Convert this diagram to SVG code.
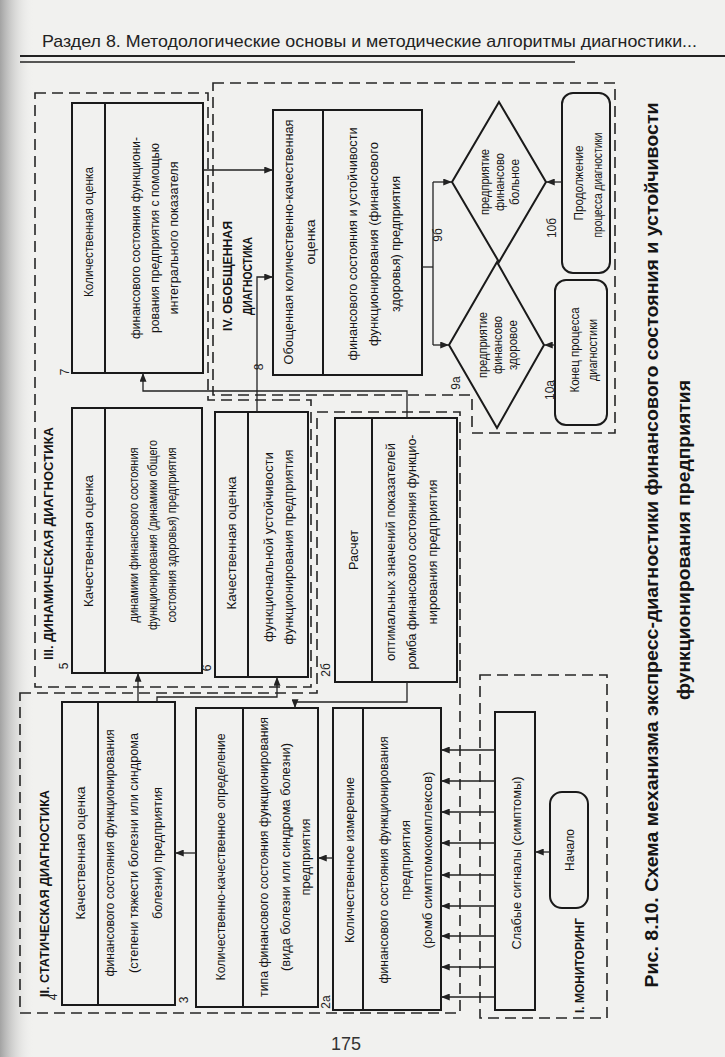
<svg xmlns="http://www.w3.org/2000/svg" width="725" height="1057" viewBox="0 0 725 1057">
<defs>
<linearGradient id="shadow" x1="0" y1="0" x2="1" y2="0">
<stop offset="0" stop-color="#9a9a9a" stop-opacity="0.9"/>
<stop offset="1" stop-color="#f1f1ef" stop-opacity="0"/>
</linearGradient>
<marker id="ah" viewBox="0 0 10 8" refX="10" refY="4" markerWidth="9" markerHeight="7" markerUnits="userSpaceOnUse" orient="auto">
<path d="M0,0 L10,4 L0,8 Z" fill="#222"/>
</marker>
<style>
.t{font-family:"Liberation Sans",Arial,sans-serif;font-size:13px;fill:#151515;text-anchor:middle;dominant-baseline:central}
.s{font-size:12px}
.b{font-weight:bold}
.st{text-anchor:start}
.lab{font-family:"Liberation Sans",Arial,sans-serif;font-size:12px;fill:#222;text-anchor:middle;dominant-baseline:central}
.box{fill:none;stroke:#1a1a1a;stroke-width:2}
.dash{fill:none;stroke:#262626;stroke-width:1.6;stroke-dasharray:11 6}
.con{fill:none;stroke:#222;stroke-width:1.3;marker-end:url(#ah)}
.ln{fill:none;stroke:#222;stroke-width:1.3}
</style>
</defs>
<rect width="725" height="1057" fill="#f1f1ef"/>
<rect width="34" height="1057" fill="url(#shadow)"/>

<g id="header">
<text x="42" y="47" font-family="'Liberation Sans',Arial,sans-serif" font-size="17" fill="#222" textLength="655" lengthAdjust="spacingAndGlyphs">Раздел 8. Методологические основы и методические алгоритмы диагностики...</text>
<line x1="20" y1="56" x2="725" y2="56" stroke="#222" stroke-width="2"/>
<line x1="20" y1="62" x2="575" y2="62" stroke="#222" stroke-width="1.3"/>
</g>

<g id="sections">
<path id="sec3" class="dash" d="M35,93 H208 V400 H311 V687 H35 Z"/>
<path id="sec4" class="dash" d="M213,83 H615 V433 H472 V395 H213 Z"/>
<path id="sec2" class="dash" d="M20,693 H317 V412 H460 V1013 H20 Z"/>
<path id="sec1" class="dash" d="M480,675 H607 V1018 H480 Z"/>
<text class="t b st" transform="translate(48,660) rotate(-90)" textLength="233" lengthAdjust="spacingAndGlyphs">III. ДИНАМИЧЕСКАЯ ДИАГНОСТИКА</text>
<text class="t b" transform="translate(227,276) rotate(-90)" textLength="110" lengthAdjust="spacingAndGlyphs">IV. ОБОБЩЕННАЯ</text>
<text class="t b" transform="translate(247,276) rotate(-90)" textLength="78" lengthAdjust="spacingAndGlyphs">ДИАГНОСТИКА</text>
<text class="t b st" transform="translate(44,997) rotate(-90)" textLength="207" lengthAdjust="spacingAndGlyphs">II. СТАТИЧЕСКАЯ ДИАГНОСТИКА</text>
<text class="t b st" transform="translate(579,1013) rotate(-90)" textLength="95" lengthAdjust="spacingAndGlyphs">I. МОНИТОРИНГ</text>
</g>

<g id="n7">
<rect class="box" x="72" y="103" width="131" height="270"/>
<line class="box" x1="105" y1="103" x2="105" y2="373"/>
<text class="lab" transform="translate(65,372) rotate(-90)">7</text>
<text class="t" transform="translate(88.5,232) rotate(-90)" textLength="130" lengthAdjust="spacingAndGlyphs">Количественная оценка</text>
<text class="t" transform="translate(135,238) rotate(-90)" textLength="202" lengthAdjust="spacingAndGlyphs">финансового состояния функциони-</text>
<text class="t" transform="translate(154,238) rotate(-90)" textLength="190" lengthAdjust="spacingAndGlyphs">рования предприятия с помощью</text>
<text class="t" transform="translate(173,238) rotate(-90)" textLength="153" lengthAdjust="spacingAndGlyphs">интегрального показателя</text>
</g>

<g id="n5">
<rect class="box" x="72" y="408" width="130" height="265"/>
<line class="box" x1="105" y1="408" x2="105" y2="673"/>
<text class="lab" transform="translate(64,666) rotate(-90)">5</text>
<text class="t" transform="translate(88.5,541) rotate(-90)" textLength="132" lengthAdjust="spacingAndGlyphs">Качественная оценка</text>
<text class="t" transform="translate(133,535) rotate(-90)" textLength="175" lengthAdjust="spacingAndGlyphs">динамики финансового состояния</text>
<text class="t" transform="translate(152,535) rotate(-90)" textLength="190" lengthAdjust="spacingAndGlyphs">функционирования (динамики общего</text>
<text class="t" transform="translate(171,535) rotate(-90)" textLength="175" lengthAdjust="spacingAndGlyphs">состояния здоровья) предприятия</text>
</g>

<g id="n6">
<rect class="box" x="215" y="412" width="93" height="265"/>
<line class="box" x1="248" y1="412" x2="248" y2="677"/>
<text class="lab" transform="translate(207,668) rotate(-90)">6</text>
<text class="t" transform="translate(231.5,543) rotate(-90)" textLength="133" lengthAdjust="spacingAndGlyphs">Качественная оценка</text>
<text class="t" transform="translate(268,547) rotate(-90)" textLength="190" lengthAdjust="spacingAndGlyphs">функциональной устойчивости</text>
<text class="t" transform="translate(288,547) rotate(-90)" textLength="195" lengthAdjust="spacingAndGlyphs">функционирования предприятия</text>
</g>

<g id="n2b">
<rect class="box" x="335" y="418" width="122" height="264"/>
<line class="box" x1="372" y1="418" x2="372" y2="682"/>
<text class="lab" transform="translate(326,670) rotate(-90)">2б</text>
<text class="t" transform="translate(353.5,550) rotate(-90)" textLength="40" lengthAdjust="spacingAndGlyphs">Расчет</text>
<text class="t" transform="translate(390,552) rotate(-90)" textLength="218" lengthAdjust="spacingAndGlyphs">оптимальных значений показателей</text>
<text class="t" transform="translate(411,552) rotate(-90)" textLength="235" lengthAdjust="spacingAndGlyphs">ромба финансового состояния функцио-</text>
<text class="t" transform="translate(432,552) rotate(-90)" textLength="145" lengthAdjust="spacingAndGlyphs">нирования предприятия</text>
</g>

<g id="n8">
<rect class="box" x="273" y="110" width="149" height="265"/>
<line class="box" x1="323" y1="110" x2="323" y2="375"/>
<text class="lab" transform="translate(259,367) rotate(-90)">8</text>
<text class="t" transform="translate(288,242) rotate(-90)" textLength="245" lengthAdjust="spacingAndGlyphs">Обощенная количественно-качественная</text>
<text class="t" transform="translate(310,242) rotate(-90)" textLength="45" lengthAdjust="spacingAndGlyphs">оценка</text>
<text class="t" transform="translate(352,244) rotate(-90)" textLength="233" lengthAdjust="spacingAndGlyphs">финансового состояния и устойчивости</text>
<text class="t" transform="translate(373,244) rotate(-90)" textLength="204" lengthAdjust="spacingAndGlyphs">функционирования (финансового</text>
<text class="t" transform="translate(395,244) rotate(-90)" textLength="136" lengthAdjust="spacingAndGlyphs">здоровья) предприятия</text>
</g>

<g id="n9b">
<polygon class="box" points="499,102 546,182 499,262 452,182"/>
<text class="lab" transform="translate(438,235) rotate(-90)">9б</text>
<text class="t s" transform="translate(485,182) rotate(-90)" textLength="66" lengthAdjust="spacingAndGlyphs">предприятие</text>
<text class="t s" transform="translate(500,182) rotate(-90)" textLength="58" lengthAdjust="spacingAndGlyphs">финансово</text>
<text class="t s" transform="translate(515,182) rotate(-90)" textLength="46" lengthAdjust="spacingAndGlyphs">больное</text>
</g>

<g id="n9a">
<polygon class="box" points="497,262 544,345 497,428 449,345"/>
<text class="lab" transform="translate(456,383) rotate(-90)">9а</text>
<text class="t s" transform="translate(483,345) rotate(-90)" textLength="66" lengthAdjust="spacingAndGlyphs">предприятие</text>
<text class="t s" transform="translate(498,345) rotate(-90)" textLength="58" lengthAdjust="spacingAndGlyphs">финансово</text>
<text class="t s" transform="translate(513,345) rotate(-90)" textLength="50" lengthAdjust="spacingAndGlyphs">здоровое</text>
</g>

<g id="n10b">
<rect class="box" x="562" y="93" width="48" height="180" rx="11"/>
<text class="lab" transform="translate(552,228) rotate(-90)">10б</text>
<text class="t" transform="translate(578,183) rotate(-90)" textLength="75" lengthAdjust="spacingAndGlyphs">Продолжение</text>
<text class="t" transform="translate(597,185) rotate(-90)" textLength="105" lengthAdjust="spacingAndGlyphs">процесса диагностики</text>
</g>

<g id="n10a">
<rect class="box" x="555" y="280" width="52" height="145" rx="11"/>
<text class="lab" transform="translate(550,390) rotate(-90)">10а</text>
<text class="t" transform="translate(574,350) rotate(-90)" textLength="85" lengthAdjust="spacingAndGlyphs">Конец процесса</text>
<text class="t" transform="translate(592,350) rotate(-90)" textLength="62" lengthAdjust="spacingAndGlyphs">диагностики</text>
</g>

<g id="n4">
<rect class="box" x="62" y="702" width="113" height="303"/>
<line class="box" x1="98" y1="702" x2="98" y2="1005"/>
<text class="lab" transform="translate(53,997) rotate(-90)">4</text>
<text class="t" transform="translate(80,853) rotate(-90)" textLength="133" lengthAdjust="spacingAndGlyphs">Качественная оценка</text>
<text class="t" transform="translate(109,853) rotate(-90)" textLength="247" lengthAdjust="spacingAndGlyphs">финансового состояния функционирования</text>
<text class="t" transform="translate(133,853) rotate(-90)" textLength="240" lengthAdjust="spacingAndGlyphs">(степени тяжести болезни или синдрома</text>
<text class="t" transform="translate(157,853) rotate(-90)" textLength="132" lengthAdjust="spacingAndGlyphs">болезни) предприятия</text>
</g>

<g id="n3">
<rect class="box" x="196" y="708" width="122" height="299"/>
<line class="box" x1="243" y1="708" x2="243" y2="1007"/>
<text class="lab" transform="translate(184,1000) rotate(-90)">3</text>
<text class="t" transform="translate(220,857) rotate(-90)" textLength="247" lengthAdjust="spacingAndGlyphs">Количественно-качественное определение</text>
<text class="t" transform="translate(263,857) rotate(-90)" textLength="280" lengthAdjust="spacingAndGlyphs">типа финансового состояния функционирования</text>
<text class="t" transform="translate(285,857) rotate(-90)" textLength="228" lengthAdjust="spacingAndGlyphs">(вида болезни или синдрома болезни)</text>
<text class="t" transform="translate(305,857) rotate(-90)" textLength="77" lengthAdjust="spacingAndGlyphs">предприятия</text>
</g>

<g id="n2a">
<rect class="box" x="333" y="708" width="108" height="302"/>
<line class="box" x1="363" y1="708" x2="363" y2="1010"/>
<text class="lab" transform="translate(326,1002) rotate(-90)">2а</text>
<text class="t" transform="translate(349,860) rotate(-90)" textLength="166" lengthAdjust="spacingAndGlyphs">Количественное измерение</text>
<text class="t" transform="translate(383,860) rotate(-90)" textLength="247" lengthAdjust="spacingAndGlyphs">финансового состояния функционирования</text>
<text class="t" transform="translate(405,860) rotate(-90)" textLength="80" lengthAdjust="spacingAndGlyphs">предприятия</text>
<text class="t" transform="translate(427,860) rotate(-90)" textLength="177" lengthAdjust="spacingAndGlyphs">(ромб симптомокомплексов)</text>
</g>

<g id="n1">
<rect class="box" x="495" y="712" width="40" height="298"/>
<text class="t" transform="translate(516,863) rotate(-90)" textLength="173" lengthAdjust="spacingAndGlyphs">Слабые сигналы (симптомы)</text>
</g>

<g id="nStart">
<rect class="box" x="550" y="792" width="38" height="116" rx="12"/>
<text class="t" transform="translate(569,850) rotate(-90)" textLength="42" lengthAdjust="spacingAndGlyphs">Начало</text>
</g>

<g id="connectors">
<path class="con" d="M550,852 H535"/>
<path class="con" d="M495,750 H441"/>
<path class="con" d="M495,781 H441"/>
<path class="con" d="M495,812 H441"/>
<path class="con" d="M495,843 H441"/>
<path class="con" d="M495,875 H441"/>
<path class="con" d="M495,906 H441"/>
<path class="con" d="M495,936 H441"/>
<path class="con" d="M495,967 H441"/>
<path class="con" d="M495,997 H441"/>
<path class="con" d="M333,858 H318"/>
<path class="con" d="M196,853 H175"/>
<path class="con" d="M407,682 V702 H295 V708"/>
<path class="con" d="M138,702 V673"/>
<path class="con" d="M157,702 V697 H277 V677"/>
<path class="con" d="M407,418 V391 H143 V373"/>
<path class="con" d="M257,412 V277 H273"/>
<path class="con" d="M203,170 H273"/>
<path class="ln" d="M422,267 H433"/>
<path class="ln" d="M433,182 V345"/>
<path class="con" d="M433,182 H452"/>
<path class="con" d="M433,345 H449"/>
<path class="con" d="M562,182 H546"/>
<path class="con" d="M555,345 H544"/>
</g>

<g id="caption">
<text class="t b" transform="translate(652,545) rotate(-90)" style="font-size:18px" textLength="885" lengthAdjust="spacingAndGlyphs">Рис. 8.10. Схема механизма экспресс-диагностики финансового состояния и устойчивости</text>
<text class="t b" transform="translate(684,540) rotate(-90)" style="font-size:18px" textLength="320" lengthAdjust="spacingAndGlyphs">функционирования предприятия</text>
</g>

<text x="346" y="1050" font-family="'Liberation Sans',Arial,sans-serif" font-size="18" fill="#333" text-anchor="middle">175</text>
</svg>
